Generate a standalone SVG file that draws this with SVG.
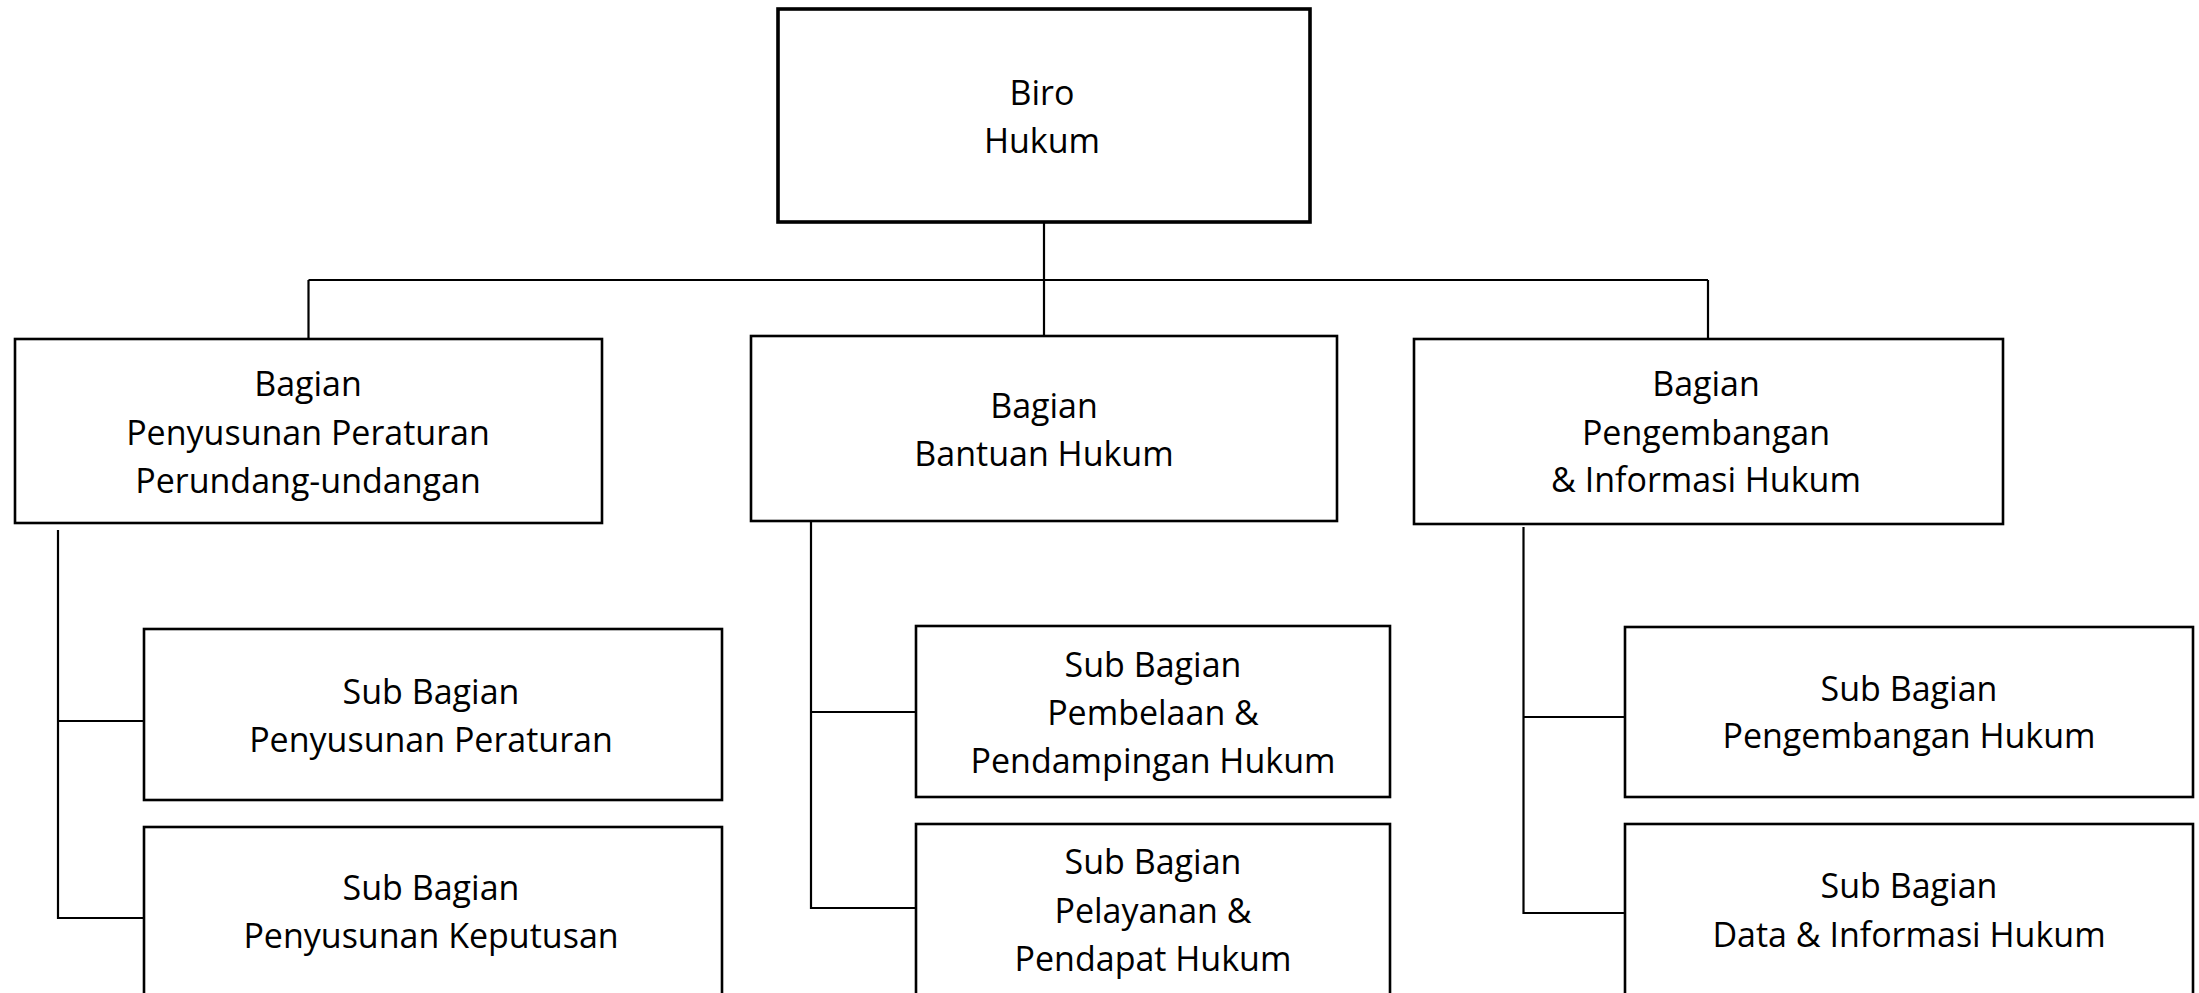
<svg xmlns="http://www.w3.org/2000/svg" width="2199" height="993" viewBox="0 0 2199 993">
<style>
.box{fill:#fff;stroke:#000;stroke-width:2.6}
.top{fill:#fff;stroke:#000;stroke-width:3.6}
.ln{fill:none;stroke:#000;stroke-width:2.2}
text{font-family:"Open Sans","Noto Sans",sans-serif;font-size:34px;fill:#000;text-anchor:middle}
</style>
<rect width="2199" height="993" fill="#fff"/>
<g id="connectors">
<path class="ln" d="M1044 222V335M308.5 280H1708M308.5 280V338M1708 280V338"/>
<path class="ln" d="M58 530V918H144M58 721H144"/>
<path class="ln" d="M811 521V908H916M811 712H916"/>
<path class="ln" d="M1523.5 527V913H1625M1523.5 717H1625"/>
</g>
<g id="biro-hukum"><rect class="top" x="778" y="9" width="532" height="213"/><text x="1042" y="105">Biro</text><text x="1042" y="153">Hukum</text></g>
<g id="bagian-penyusunan"><rect class="box" x="15" y="339" width="587" height="184"/><text x="308" y="396">Bagian</text><text x="308" y="445">Penyusunan Peraturan</text><text x="308" y="493">Perundang-undangan</text></g>
<g id="bagian-bantuan"><rect class="box" x="751" y="336" width="586" height="185"/><text x="1044" y="418">Bagian</text><text x="1044" y="466">Bantuan Hukum</text></g>
<g id="bagian-pengembangan"><rect class="box" x="1414" y="339" width="589" height="185"/><text x="1706" y="396">Bagian</text><text x="1706" y="445">Pengembangan</text><text x="1706" y="492">&amp; Informasi Hukum</text></g>
<g id="sub-penyusunan-peraturan"><rect class="box" x="144" y="629" width="578" height="171"/><text x="431" y="704">Sub Bagian</text><text x="431" y="752">Penyusunan Peraturan</text></g>
<g id="sub-penyusunan-keputusan"><rect class="box" x="144" y="827" width="578" height="175"/><text x="431" y="900">Sub Bagian</text><text x="431" y="948">Penyusunan Keputusan</text></g>
<g id="sub-pembelaan"><rect class="box" x="916" y="626" width="474" height="171"/><text x="1153" y="677">Sub Bagian</text><text x="1153" y="725">Pembelaan &amp;</text><text x="1153" y="773">Pendampingan Hukum</text></g>
<g id="sub-pelayanan"><rect class="box" x="916" y="824" width="474" height="178"/><text x="1153" y="874">Sub Bagian</text><text x="1153" y="923">Pelayanan &amp;</text><text x="1153" y="971">Pendapat Hukum</text></g>
<g id="sub-pengembangan-hukum"><rect class="box" x="1625" y="627" width="568" height="170"/><text x="1909" y="701">Sub Bagian</text><text x="1909" y="748">Pengembangan Hukum</text></g>
<g id="sub-data-informasi"><rect class="box" x="1625" y="824" width="568" height="178"/><text x="1909" y="898">Sub Bagian</text><text x="1909" y="947">Data &amp; Informasi Hukum</text></g>
</svg>
